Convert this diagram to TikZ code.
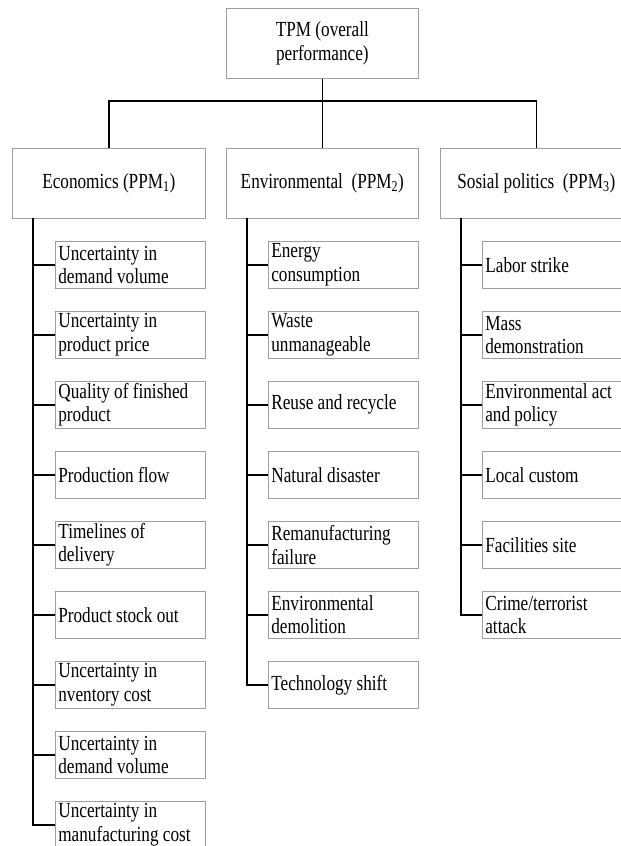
\documentclass[tikz,border=0pt]{standalone}
\usepackage{fontspec}
\setmainfont{Liberation Serif}[FakeStretch=0.8]
\begin{document}
\begin{tikzpicture}[x=1pt,y=-1pt,
  box/.style={draw=black!38, line width=0.7pt, rectangle, anchor=north west, inner sep=0pt,
    font=\fontsize{21.5}{23.5}\selectfont},
  head/.style={box, minimum height=70pt, align=center},
  leaf/.style={box, minimum height=47pt, text width=144pt, inner xsep=3pt, align=flush left},
  conn/.style={draw=black, line width=1.7pt}]
\useasboundingbox (0,0) rectangle (621,846);
\clip (0,0) rectangle (621,846);
% top
\node[head, minimum width=192pt] (tpm) at (226,8) {TPM (overall\\performance)};
% level 2
\node[head, minimum width=193pt] (eco) at (12,148) {Economics (PPM\textsubscript{1})};
\node[head, minimum width=192pt] (env) at (226,148) {Environmental\ \ (PPM\textsubscript{2})};
\node[head, minimum width=192pt] (soc) at (440,148) {Sosial politics\ \ (PPM\textsubscript{3})};
\coordinate (bus) at (322,101);
\draw[conn] (tpm.south) -- (env.north);
\draw[conn] (eco.north) -- (eco.north |- bus) -- (soc.north |- bus) -- (soc.north);
% economics children
\node[leaf] (e1) at (55,241) {Uncertainty in\\demand volume};
\node[leaf] (e2) at (55,311) {Uncertainty in\\product price};
\node[leaf] (e3) at (55,381) {Quality of finished\\product};
\node[leaf] (e4) at (55,451) {Production flow};
\node[leaf] (e5) at (55,521) {Timelines of\\delivery};
\node[leaf] (e6) at (55,591) {Product stock out};
\node[leaf] (e7) at (55,661) {Uncertainty in\\nventory cost};
\node[leaf] (e8) at (55,731) {Uncertainty in\\demand volume};
\node[leaf] (e9) at (55,801) {Uncertainty in\\manufacturing cost};
\coordinate (ecoT) at (33,218);
\draw[conn] (ecoT) |- (e9.west);
\foreach \i in {1,...,8} {\draw[conn] (ecoT |- e\i.west) -- (e\i.west);}
% environmental children
\node[leaf] (n1) at (268,241) {Energy\\consumption};
\node[leaf] (n2) at (268,311) {Waste\\unmanageable};
\node[leaf] (n3) at (268,381) {Reuse and recycle};
\node[leaf] (n4) at (268,451) {Natural disaster};
\node[leaf] (n5) at (268,521) {Remanufacturing\\failure};
\node[leaf] (n6) at (268,591) {Environmental\\demolition};
\node[leaf] (n7) at (268,661) {Technology shift};
\coordinate (envT) at (247,218);
\draw[conn] (envT) |- (n7.west);
\foreach \i in {1,...,6} {\draw[conn] (envT |- n\i.west) -- (n\i.west);}
% social children
\node[leaf] (s1) at (482,241) {Labor strike};
\node[leaf] (s2) at (482,311) {Mass\\demonstration};
\node[leaf] (s3) at (482,381) {Environmental act\\and policy};
\node[leaf] (s4) at (482,451) {Local custom};
\node[leaf] (s5) at (482,521) {Facilities site};
\node[leaf] (s6) at (482,591) {Crime/terrorist\\attack};
\coordinate (socT) at (461,218);
\draw[conn] (socT) |- (s6.west);
\foreach \i in {1,...,5} {\draw[conn] (socT |- s\i.west) -- (s\i.west);}
\end{tikzpicture}
\end{document}
